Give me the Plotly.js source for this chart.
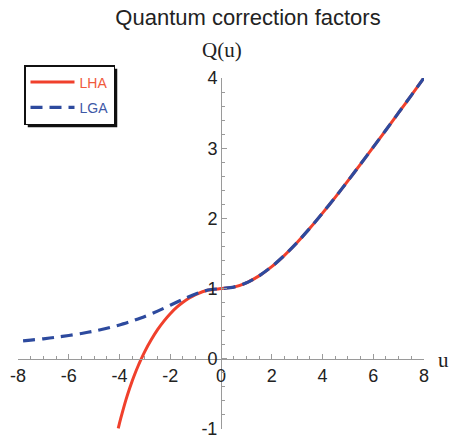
<!DOCTYPE html>
<html>
<head>
<meta charset="utf-8">
<script src="https://cdn.plot.ly/plotly-3.0.1.min.js"></script>
<style>
  html, body { margin: 0; padding: 0; background: #fff; }
  #chart { width: 452px; height: 440px; }
</style>
</head>
<body>
<div id="chart"></div>
<script>
// Local harmonic approximation (LHA)
const uLHA = [-4.05, -4.0, -3.9, -3.75, -3.6, -3.5, -3.4, -3.25, -3.1, -3.0, -2.75, -2.5, -2.25, -2.0, -1.75, -1.5, -1.25, -1.0, -0.5, 0,
              0.5, 1, 1.5, 2, 2.5, 3, 3.5, 4, 4.5, 5, 5.5, 6, 6.5, 7, 7.5, 8];
const qLHA = [-0.99, -0.915, -0.78, -0.589, -0.42, -0.317, -0.22, -0.088, 0.03, 0.106, 0.27, 0.415, 0.537, 0.642, 0.731, 0.805, 0.866, 0.915, 0.979, 1.0,
              1.021, 1.082, 1.181, 1.313, 1.474, 1.657, 1.859, 2.075, 2.300, 2.534, 2.773, 3.015, 3.259, 3.506, 3.753, 4.003];

// Local Gaussian approximation (LGA)
const uLGA = [-7.8, -7.5, -7, -6.5, -6, -5.5, -5, -4.5, -4, -3.5, -3, -2.5, -2, -1.5, -1, -0.5, 0,
              0.5, 1, 1.5, 2, 2.5, 3, 3.5, 4, 4.5, 5, 5.5, 6, 6.5, 7, 7.5, 8];
const qLGA = [0.256, 0.266, 0.285, 0.307, 0.332, 0.361, 0.395, 0.435, 0.482, 0.538, 0.603, 0.679, 0.762, 0.847, 0.924, 0.980, 1.0,
              1.021, 1.082, 1.181, 1.313, 1.474, 1.657, 1.859, 2.075, 2.300, 2.534, 2.773, 3.015, 3.259, 3.506, 3.753, 4.003];

const xTicks = [-8, -6, -4, -2, 0, 2, 4, 6, 8];
const yTicks = [-1, 0, 1, 2, 3, 4];

const RED = '#f0402c';
const BLUE = '#2d4a9e';
const AXIS = '#9a9a9a';
const SANS = 'Liberation Sans, Arial, sans-serif';
const SERIF = 'Liberation Serif, Times New Roman, serif';

const traces = [
  {
    x: uLHA, y: qLHA, type: 'scatter', mode: 'lines',
    name: '<span style="color:#f05a3c">LHA</span>',
    legendgroup: 'a',
    line: { color: RED, width: 3, shape: 'spline', smoothing: 0.6 },
    cliponaxis: false
  },
  {
    x: uLGA, y: qLGA, type: 'scatter', mode: 'lines',
    name: '<span style="color:#3d58a6">LGA</span>',
    legendgroup: 'b',
    line: { color: BLUE, width: 3.2, dash: '12px,7px', shape: 'spline', smoothing: 0.6 },
    cliponaxis: false
  }
];

// plot area in pixels: left 18, right 424, top 78, bottom 429
const L = 18, R = 28, T = 78, B = 11;
const W = 452 - L - R, H = 440 - T - B;
const px = p => (p - L) / W;
const py = p => (440 - B - p) / H;

const layout = {
  width: 452, height: 440,
  margin: { l: L, r: R, t: T, b: B, pad: 0 },
  paper_bgcolor: '#ffffff',
  plot_bgcolor: 'rgba(0,0,0,0)',
  showlegend: true,
  title: {
    text: 'Quantum correction factors',
    x: 248 / 452, xanchor: 'center', xref: 'container',
    y: 1 - 17 / 440, yanchor: 'middle', yref: 'container',
    font: { family: SANS, size: 22, color: '#222' }
  },
  xaxis: {
    range: [-8, 8], anchor: 'free', position: 0.2,
    showgrid: false, zeroline: false,
    showline: true, linecolor: AXIS, linewidth: 1.2,
    tickmode: 'array', tickvals: xTicks, ticktext: xTicks.map(String),
    ticks: 'inside', ticklen: 5, tickcolor: AXIS, tickwidth: 1,
    minor: { dtick: 0.5, ticks: 'inside', ticklen: 3, tickcolor: AXIS, tickwidth: 1 },
    tickfont: { family: SANS, size: 18, color: '#222' },
    fixedrange: true
  },
  yaxis: {
    range: [-1, 4], anchor: 'free', position: 0.5,
    showgrid: false, zeroline: false,
    showline: true, linecolor: AXIS, linewidth: 1.2,
    tickmode: 'array', tickvals: yTicks, ticktext: yTicks.map(String),
    ticks: 'inside', ticklen: 5, tickcolor: AXIS, tickwidth: 1,
    minor: { dtick: 0.2, ticks: 'inside', ticklen: 3, tickcolor: AXIS, tickwidth: 1 },
    tickfont: { family: SANS, size: 18, color: '#222' },
    fixedrange: true
  },
  legend: {
    x: px(24), y: py(65), xanchor: 'left', yanchor: 'top',
    bgcolor: '#ffffff', bordercolor: '#111', borderwidth: 1.5,
    font: { family: SANS, size: 14 },
    itemwidth: 44, tracegroupgap: 4,
    traceorder: 'grouped'
  },
  shapes: [],
  annotations: [
    { text: 'Q(u)', xref: 'paper', yref: 'paper', x: px(222), y: py(50),
      xanchor: 'center', yanchor: 'middle', showarrow: false,
      font: { family: SERIF, size: 21, color: '#222' } },
    { text: 'u', xref: 'paper', yref: 'paper', x: px(443), y: py(360),
      xanchor: 'center', yanchor: 'middle', showarrow: false,
      font: { family: SERIF, size: 21, color: '#222' } }
  ]
};

const gd = document.getElementById('chart');
Plotly.newPlot(gd, traces, layout, { displayModeBar: false, staticPlot: true }).then(() => {
  // drop shadow behind the legend box, offset 3px down and right
  const bg = gd.querySelector('.legend .bg');
  if (!bg) return;
  const box = bg.getBoundingClientRect();
  const host = gd.getBoundingClientRect();
  const x0 = box.left - host.left + 3, x1 = box.right - host.left + 3;
  const y0 = box.top - host.top + 3, y1 = box.bottom - host.top + 3;
  return Plotly.relayout(gd, {
    shapes: [{
      type: 'rect', xref: 'paper', yref: 'paper',
      x0: px(x0), x1: px(x1), y0: py(y1), y1: py(y0),
      fillcolor: '#111', line: { width: 0 }, layer: 'below'
    }]
  });
});
</script>
</body>
</html>
